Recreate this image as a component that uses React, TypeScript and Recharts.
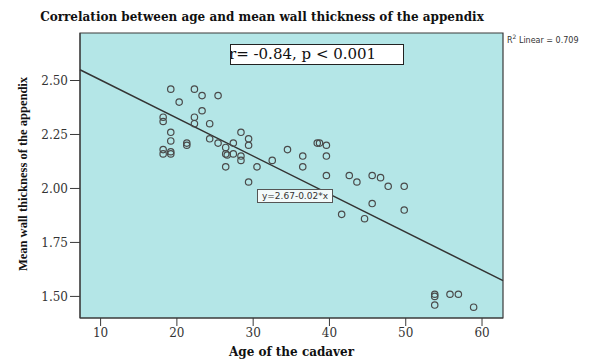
import React from "react";
import {
    ScatterChart,
    Scatter,
    XAxis,
    YAxis,
    ReferenceArea,
    ReferenceLine,
    Label,
} from "recharts";

// age of cadaver (years)
const ages = [
    19.2, 22.3, 23.3, 25.4, 20.3, 23.3, 18.2, 18.2, 22.3, 22.3,
    24.3, 19.2, 28.4, 29.4, 24.3, 19.2, 21.3, 21.3, 25.4, 27.4,
    29.4, 26.4, 18.2, 18.2, 19.2, 19.2, 26.4, 26.6, 27.4, 28.4,
    28.4, 26.4, 30.5, 32.5, 34.5, 36.5, 38.4, 38.7, 39.6, 39.6,
    36.5, 39.6, 29.4, 42.6, 45.6, 46.7, 43.6, 47.7, 49.8, 45.6,
    49.8, 41.6, 44.6, 53.8, 53.8, 55.8, 56.9, 53.8, 58.9,
];

// mean wall thickness (mm)
const wallThickness = [
    2.46, 2.46, 2.43, 2.43, 2.4, 2.36, 2.33, 2.31, 2.33, 2.3,
    2.3, 2.26, 2.26, 2.23, 2.23, 2.22, 2.21, 2.2, 2.21, 2.21,
    2.2, 2.19, 2.18, 2.16, 2.16, 2.17, 2.16, 2.155, 2.16, 2.15,
    2.13, 2.1, 2.1, 2.13, 2.18, 2.15, 2.21, 2.21, 2.2, 2.15,
    2.1, 2.06, 2.03, 2.06, 2.06, 2.05, 2.03, 2.01, 2.01, 1.93,
    1.9, 1.88, 1.86, 1.51, 1.5, 1.51, 1.51, 1.46, 1.45,
];

const xTicks = [10, 20, 30, 40, 50, 60];
const yTicks = [1.5, 1.75, 2.0, 2.25, 2.5];
const xDomain = [7.3, 62.75];
const yDomain = [1.4, 2.72];

// fit line end points at the plot edges
const fitLine = [
    { x: 7.3, y: 2.55 },
    { x: 62.75, y: 1.573 },
];

const points = ages.map((x, i) => ({ x, y: wallThickness[i] }));

const BG = "#b4e6e7";
const FRAME = "#3a3a3a";

const OpenCircle = (props: any) => {
    const { cx, cy } = props;
    if (cx == null || cy == null) return null;
    return (
        <circle
            cx={cx}
            cy={cy}
            r={3.2}
            fill="none"
            stroke="#4a4a4a"
            strokeWidth={1.2}
        />
    );
};

export default function App() {
    return (
        <div
            style={{
                position: "absolute",
                left: 0,
                top: 0,
                width: 591,
                height: 359,
                background: "#fff",
                overflow: "hidden",
            }}
        >
            <ScatterChart
                width={591}
                height={359}
                margin={{ top: 33, right: 88, bottom: 0, left: 0 }}
            >
                <ReferenceArea
                    x1={xDomain[0]}
                    x2={xDomain[1]}
                    y1={yDomain[0]}
                    y2={yDomain[1]}
                    fill={BG}
                    fillOpacity={1}
                    stroke={FRAME}
                    strokeWidth={1.2}
                    ifOverflow="visible"
                />
                <XAxis
                    type="number"
                    dataKey="x"
                    domain={xDomain}
                    ticks={xTicks}
                    allowDataOverflow
                    height={41}
                    tickSize={8}
                    tickMargin={2}
                    stroke={FRAME}
                    tick={{
                        fill: "#333",
                        fontSize: 12,
                        fontFamily: "DejaVu Serif",
                    }}
                >
                    <Label
                        value="Age of the cadaver"
                        position="insideBottom"
                        offset={3}
                        style={{
                            fontFamily: "DejaVu Serif",
                            fontWeight: "bold",
                            fontSize: 12,
                            fill: "#111",
                        }}
                    />
                </XAxis>
                <YAxis
                    type="number"
                    dataKey="y"
                    domain={yDomain}
                    ticks={yTicks}
                    allowDataOverflow
                    width={80}
                    tickSize={10}
                    tickMargin={2}
                    stroke={FRAME}
                    tickFormatter={(v: number) => v.toFixed(2)}
                    tick={{
                        fill: "#333",
                        fontSize: 12,
                        fontFamily: "DejaVu Serif",
                    }}
                />
                <ReferenceLine
                    segment={fitLine}
                    stroke="#333"
                    strokeWidth={1.5}
                    ifOverflow="visible"
                />
                <Scatter
                    data={points}
                    shape={OpenCircle}
                    isAnimationActive={false}
                />
            </ScatterChart>

            <div
                style={{
                    position: "absolute",
                    left: 262,
                    top: 10,
                    transform: "translateX(-50%)",
                    whiteSpace: "nowrap",
                    fontFamily: "DejaVu Serif",
                    fontWeight: "bold",
                    fontSize: 12,
                    color: "#111",
                }}
            >
                Correlation between age and mean wall thickness of the appendix
            </div>

            <div
                style={{
                    position: "absolute",
                    left: 23,
                    top: 174,
                    transform: "translate(-50%, -50%) rotate(-90deg)",
                    whiteSpace: "nowrap",
                    fontFamily: "Liberation Serif",
                    fontWeight: "bold",
                    fontSize: 12.5,
                    lineHeight: "14px",
                    color: "#111",
                }}
            >
                Mean wall thickness of the appendix
            </div>

            <div
                style={{
                    position: "absolute",
                    left: 507,
                    top: 33,
                    whiteSpace: "nowrap",
                    fontFamily: "DejaVu Sans",
                    fontSize: 8,
                    color: "#333",
                }}
            >
                R<sup style={{ fontSize: 6 }}>2</sup> Linear = 0.709
            </div>

            <div
                style={{
                    position: "absolute",
                    left: 230,
                    top: 44,
                    width: 172,
                    height: 19,
                    border: "1px solid #222",
                    background: "#fff",
                    fontFamily: "DejaVu Serif",
                    fontSize: 15,
                    lineHeight: "19px",
                    whiteSpace: "nowrap",
                    overflow: "hidden",
                    color: "#111",
                }}
            >
                <span style={{ marginLeft: -2 }}>r= -0.84, p &lt; 0.001</span>
            </div>

            <div
                style={{
                    position: "absolute",
                    left: 257,
                    top: 189,
                    width: 74,
                    height: 12,
                    border: "1px solid #555",
                    background: "#f3fafa",
                    fontFamily: "DejaVu Sans",
                    fontSize: 9,
                    lineHeight: "12px",
                    textAlign: "center",
                    whiteSpace: "nowrap",
                    color: "#333",
                }}
            >
                y=2.67-0.02*x
            </div>
        </div>
    );
}
